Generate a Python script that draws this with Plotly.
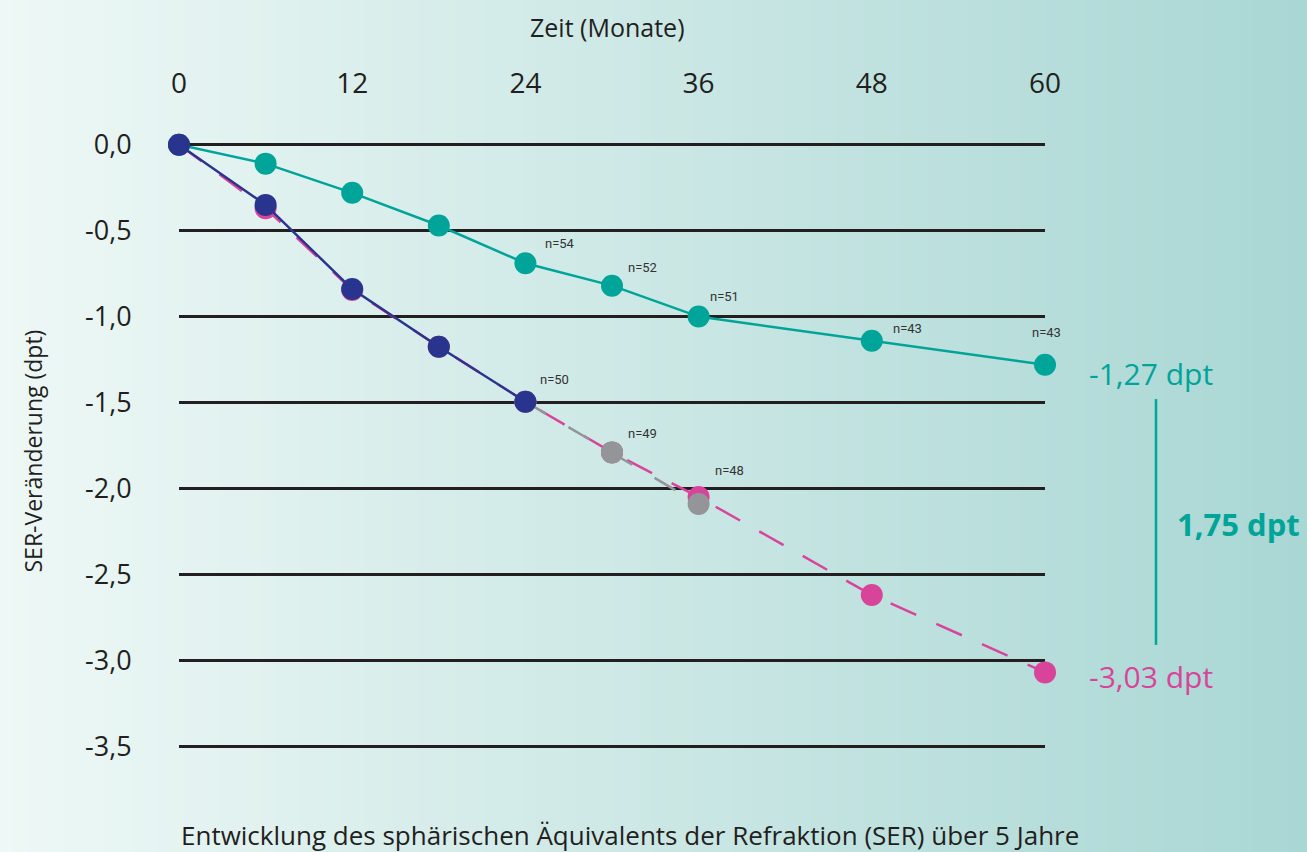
import plotly.graph_objects as go

# ---------------- data ----------------
months = [0, 6, 12, 18, 24, 30, 36, 48, 60]
teal_vals = [0.0, -0.11, -0.28, -0.47, -0.69, -0.82, -1.00, -1.14, -1.28]

blue_months = [0, 6, 12, 18, 24]
blue_vals = [0.0, -0.35, -0.84, -1.175, -1.495]

grey_months = [24, 30, 36]
grey_vals = [-1.495, -1.79, -2.09]

pink_months = [0, 6, 12, 18, 24, 30, 36, 48, 60]
pink_vals = [0.0, -0.37, -0.845, -1.175, -1.495, -1.79, -2.05, -2.62, -3.07]

teal_n_months = [24, 30, 36, 48, 60]
teal_n = [54, 52, 51, 43, 43]
lower_n_months = [24, 30, 36]
lower_n = [50, 49, 48]

x_ticks = [0, 12, 24, 36, 48, 60]
y_ticks = [0.0, -0.5, -1.0, -1.5, -2.0, -2.5, -3.0, -3.5]
y_tick_text = ["0,0", "-0,5", "-1,0", "-1,5", "-2,0", "-2,5", "-3,0", "-3,5"]

label_high = "-1,27 dpt"
label_low = "-3,03 dpt"
label_diff = "1,75 dpt"

# ---------------- styles ----------------
TEAL = "#00A499"
BLUE = "#28348E"
PINK = "#D9449B"
GREY = "#939598"
DARK = "#231F20"
FONT = "'Open Sans', Lato, sans-serif"

fig = go.Figure()

fig.add_trace(go.Scatter(
    x=pink_months, y=pink_vals, mode="lines+markers",
    line=dict(color=PINK, width=2.5, dash="28px,22px"),
    marker=dict(size=22, color=PINK), cliponaxis=False, showlegend=False, hoverinfo="skip"))
fig.add_trace(go.Scatter(
    x=grey_months, y=grey_vals, mode="lines+markers",
    line=dict(color=GREY, width=2.5, dash="24px,26px"),
    marker=dict(size=22, color=GREY), cliponaxis=False, showlegend=False, hoverinfo="skip"))
fig.add_trace(go.Scatter(
    x=months, y=teal_vals, mode="lines+markers",
    line=dict(color=TEAL, width=2.5),
    marker=dict(size=22, color=TEAL), cliponaxis=False, showlegend=False, hoverinfo="skip"))
fig.add_trace(go.Scatter(
    x=blue_months, y=blue_vals, mode="lines+markers",
    line=dict(color=BLUE, width=2.5),
    marker=dict(size=22, color=BLUE), cliponaxis=False, showlegend=False, hoverinfo="skip"))

annotations = []
teal_offsets = [(18, 20), (14, 18), (9, 20), (19, 12), (-15, 32)]
for m, n, (dx, dy) in zip(teal_n_months, teal_n, teal_offsets):
    yv = teal_vals[months.index(m)]
    annotations.append(dict(x=m, y=yv, xref="x", yref="y", text=f"n={n}",
                            showarrow=False, xanchor="left", yanchor="middle",
                            xshift=dx, yshift=dy,
                            font=dict(family="Roboto", size=13, color="#333333")))
lower_offsets = [(13, 22), (14, 19), (14, 33)]
for m, n, (dx, dy) in zip(lower_n_months, lower_n, lower_offsets):
    yv = blue_vals[blue_months.index(m)] if m in blue_months else grey_vals[grey_months.index(m)]
    annotations.append(dict(x=m, y=yv, xref="x", yref="y", text=f"n={n}",
                            showarrow=False, xanchor="left", yanchor="middle",
                            xshift=dx, yshift=dy,
                            font=dict(family="Roboto", size=13, color="#333333")))

annotations.append(dict(x=months[-1], y=teal_vals[-1], xref="x", yref="y", text=label_high,
                        showarrow=False, xanchor="left", yanchor="middle", xshift=42, yshift=-9,
                        font=dict(family=FONT, size=30, color=TEAL)))
annotations.append(dict(x=pink_months[-1], y=pink_vals[-1], xref="x", yref="y", text=label_low,
                        showarrow=False, xanchor="left", yanchor="middle", xshift=42, yshift=-4,
                        font=dict(family=FONT, size=30, color=PINK)))
annotations.append(dict(x=1.150, y=(teal_vals[-1] + pink_vals[-1]) / 2, xref="paper", yref="y",
                        text=f"<b>{label_diff}</b>", showarrow=False, xanchor="left", yanchor="middle",
                        yshift=-5, font=dict(family=FONT, size=31, color=TEAL)))

annotations.append(dict(x=0.5, y=1, xref="paper", yref="paper", text="Zeit (Monate)",
                        showarrow=False, xanchor="center", yanchor="middle", yshift=116, xshift=-5,
                        font=dict(family=FONT, size=25, color=DARK)))
annotations.append(dict(x=0, y=0.5, xref="paper", yref="paper", text="SER-Veränderung (dpt)",
                        showarrow=False, xanchor="center", yanchor="middle", xshift=-147, yshift=-6,
                        textangle=-90, font=dict(family=FONT, size=23, color=DARK)))
annotations.append(dict(x=0.5, y=0, xref="paper", yref="paper",
                        text="Entwicklung des sphärischen Äquivalents der Refraktion (SER) über 5 Jahre",
                        showarrow=False, xanchor="center", yanchor="middle", yshift=-87, xshift=18,
                        font=dict(family=FONT, size=26, color=DARK)))

# background gradient strips
shapes = []
left_c = (238, 248, 246)
right_c = (169, 215, 212)
W = 1307
nstrips = 100
L, R = 179, 1045
for i in range(nstrips):
    px0 = W * i / nstrips
    px1 = W * (i + 1) / nstrips + 1
    t = (i + 0.5) / nstrips
    c = tuple(round(left_c[k] + (right_c[k] - left_c[k]) * t) for k in range(3))
    shapes.append(dict(type="rect", xref="paper", yref="paper",
                       x0=(px0 - L) / (R - L), x1=(px1 - L) / (R - L), y0=-1, y1=2,
                       fillcolor=f"rgb{c}", line=dict(width=0), layer="below"))

# difference bracket line
shapes.append(dict(type="line", xref="paper", yref="y",
                   x0=(1156 - L) / (R - L), x1=(1156 - L) / (R - L),
                   y0=-1.48, y1=-2.91, line=dict(color=TEAL, width=2.5)))

fig.update_layout(
    width=1307, height=852,
    margin=dict(l=179, r=262, t=143, b=104),
    paper_bgcolor="rgb(238,248,246)",
    plot_bgcolor="rgba(0,0,0,0)",
    shapes=shapes,
    annotations=annotations,
    showlegend=False,
    hovermode=False,
    xaxis=dict(range=[0, 60], side="top", tickvals=x_ticks, showgrid=False, zeroline=False,
               showline=False, ticks="outside", ticklen=38, tickcolor="rgba(0,0,0,0)",
               tickfont=dict(family=FONT, size=28, color=DARK)),
    yaxis=dict(range=[-3.51, 0.01], tickvals=y_ticks, ticktext=y_tick_text,
               showgrid=True, gridcolor=DARK, gridwidth=3, zeroline=False, showline=False,
               ticks="outside", ticklen=41, tickcolor="rgba(0,0,0,0)",
               tickfont=dict(family=FONT, size=27, color=DARK)),
)

fig.write_html("out.html", config={"displayModeBar": False},
               post_script="document.body.style.margin='0';document.body.style.padding='0';")
